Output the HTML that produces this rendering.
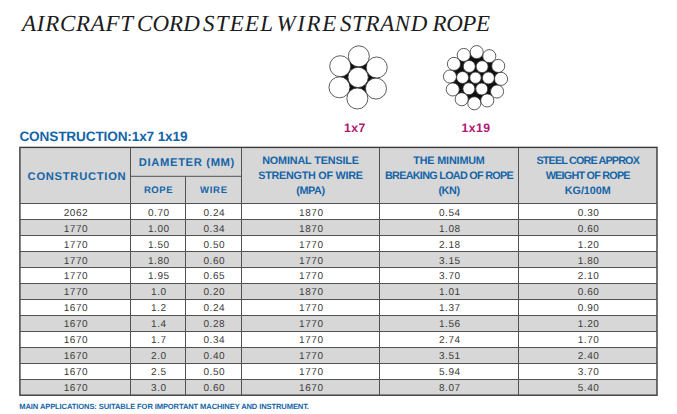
<!DOCTYPE html>
<html><head><meta charset="utf-8"><title>Aircraft cord steel wire strand rope</title>
<style>
html,body{margin:0;padding:0;background:#fff;}
body{text-rendering:geometricPrecision;width:677px;height:414px;position:relative;overflow:hidden;font-family:"Liberation Sans",sans-serif;}
.a{position:absolute;white-space:nowrap;}
.title{top:10px;font-family:"Liberation Serif",serif;font-style:italic;font-size:23px;line-height:28px;color:#1c1c1c;}
.sub{left:19.4px;top:128.6px;font-size:13.6px;line-height:16px;font-weight:bold;color:#1464a8;letter-spacing:-0.13px;}
.h{font-weight:bold;color:#1464a8;text-align:center;}
.h1{font-size:11.2px;line-height:14px;letter-spacing:0.72px;}
.h2{font-size:9.5px;line-height:14px;letter-spacing:0.55px;}
.h3{font-size:10.8px;line-height:15.35px;}
.h3 span{display:block;}
.c{font-size:10px;line-height:16px;color:#3a3a3a;text-align:center;letter-spacing:0.55px;}
.lab{font-size:12.2px;line-height:14px;font-weight:bold;color:#b11672;text-align:center;letter-spacing:0.5px;}
.foot{left:19.3px;top:401.7px;font-size:7.55px;line-height:10px;font-weight:bold;color:#1464a8;letter-spacing:-0.1px;}
.bg{background:#d7d7d7;}
svg{position:absolute;left:0;top:0;}
</style></head><body>

<div class="a title" style="left:22px;letter-spacing:0.71px">AIRCRAFT</div>
<div class="a title" style="left:137px;letter-spacing:0.07px">CORD</div>
<div class="a title" style="left:203px;letter-spacing:1.2px">STEEL</div>
<div class="a title" style="left:276.5px;letter-spacing:1.6px">WIRE</div>
<div class="a title" style="left:340px;letter-spacing:0.6px">STRAND</div>
<div class="a title" style="left:432.5px;letter-spacing:-0.4px">ROPE</div>
<div class="a sub">CONSTRUCTION:1x7 1x19</div>
<div class="a bg" style="left:19.9px;top:147.4px;width:637.1px;height:56.1px"></div>
<div class="a bg" style="left:19.9px;top:219.5px;width:637.1px;height:16px"></div>
<div class="a bg" style="left:19.9px;top:251.5px;width:637.1px;height:16px"></div>
<div class="a bg" style="left:19.9px;top:283.5px;width:637.1px;height:16px"></div>
<div class="a bg" style="left:19.9px;top:315.5px;width:637.1px;height:16px"></div>
<div class="a bg" style="left:19.9px;top:347.5px;width:637.1px;height:16px"></div>
<div class="a bg" style="left:19.9px;top:379.5px;width:637.1px;height:16px"></div>
<svg width="677" height="414" viewBox="0 0 677 414">
<polygon points="358.84,56.31 340.21,66.22 339.47,87.31 357.36,98.49 375.99,88.58 376.73,67.49" fill="#111"/>
<circle cx="358.84" cy="56.31" r="10.50" fill="#fff" stroke="#333" stroke-width="0.8"/>
<circle cx="340.21" cy="66.22" r="10.50" fill="#fff" stroke="#333" stroke-width="0.8"/>
<circle cx="339.47" cy="87.31" r="10.50" fill="#fff" stroke="#333" stroke-width="0.8"/>
<circle cx="357.36" cy="98.49" r="10.50" fill="#fff" stroke="#333" stroke-width="0.8"/>
<circle cx="375.99" cy="88.58" r="10.50" fill="#fff" stroke="#333" stroke-width="0.8"/>
<circle cx="376.73" cy="67.49" r="10.50" fill="#fff" stroke="#333" stroke-width="0.8"/>
<circle cx="358.10" cy="77.40" r="10.15" fill="#fff" stroke="#333" stroke-width="0.8"/>
<polygon points="476.68,52.13 463.74,54.96 453.95,63.89 449.93,76.52 452.76,89.46 461.69,99.25 474.32,103.27 487.26,100.44 497.05,91.51 501.07,78.88 498.24,65.94 489.31,56.15" fill="#111"/>
<circle cx="476.68" cy="52.13" r="6.55" fill="#fff" stroke="#333" stroke-width="0.8"/>
<circle cx="463.74" cy="54.96" r="6.55" fill="#fff" stroke="#333" stroke-width="0.8"/>
<circle cx="453.95" cy="63.89" r="6.55" fill="#fff" stroke="#333" stroke-width="0.8"/>
<circle cx="449.93" cy="76.52" r="6.55" fill="#fff" stroke="#333" stroke-width="0.8"/>
<circle cx="452.76" cy="89.46" r="6.55" fill="#fff" stroke="#333" stroke-width="0.8"/>
<circle cx="461.69" cy="99.25" r="6.55" fill="#fff" stroke="#333" stroke-width="0.8"/>
<circle cx="474.32" cy="103.27" r="6.55" fill="#fff" stroke="#333" stroke-width="0.8"/>
<circle cx="487.26" cy="100.44" r="6.55" fill="#fff" stroke="#333" stroke-width="0.8"/>
<circle cx="497.05" cy="91.51" r="6.55" fill="#fff" stroke="#333" stroke-width="0.8"/>
<circle cx="501.07" cy="78.88" r="6.55" fill="#fff" stroke="#333" stroke-width="0.8"/>
<circle cx="498.24" cy="65.94" r="6.55" fill="#fff" stroke="#333" stroke-width="0.8"/>
<circle cx="489.31" cy="56.15" r="6.55" fill="#fff" stroke="#333" stroke-width="0.8"/>
<circle cx="488.40" cy="77.93" r="6.00" fill="#fff" stroke="#333" stroke-width="0.8"/>
<circle cx="482.14" cy="66.64" r="6.00" fill="#fff" stroke="#333" stroke-width="0.8"/>
<circle cx="469.25" cy="66.42" r="6.00" fill="#fff" stroke="#333" stroke-width="0.8"/>
<circle cx="462.60" cy="77.47" r="6.00" fill="#fff" stroke="#333" stroke-width="0.8"/>
<circle cx="468.86" cy="88.76" r="6.00" fill="#fff" stroke="#333" stroke-width="0.8"/>
<circle cx="481.75" cy="88.98" r="6.00" fill="#fff" stroke="#333" stroke-width="0.8"/>
<circle cx="475.50" cy="77.70" r="5.70" fill="#fff" stroke="#333" stroke-width="0.8"/>
<g stroke="#525252" fill="none">
<rect x="19.9" y="147.4" width="637.1" height="247.8" stroke="#3a3a3a" stroke-width="1.4"/>
<line x1="130.5" y1="147.4" x2="130.5" y2="395.2" stroke-width="1"/>
<line x1="185.5" y1="176.3" x2="185.5" y2="395.2" stroke-width="1"/>
<line x1="241.5" y1="147.4" x2="241.5" y2="395.2" stroke-width="1"/>
<line x1="379.5" y1="147.4" x2="379.5" y2="395.2" stroke-width="1"/>
<line x1="518.5" y1="147.4" x2="518.5" y2="395.2" stroke-width="1"/>
<line x1="130.5" y1="176.3" x2="241.5" y2="176.3" stroke-width="1"/>
<line x1="19.9" y1="203.5" x2="657" y2="203.5" stroke-width="1"/>
<line x1="19.9" y1="219.5" x2="657" y2="219.5" stroke-width="1"/>
<line x1="19.9" y1="235.5" x2="657" y2="235.5" stroke-width="1"/>
<line x1="19.9" y1="251.5" x2="657" y2="251.5" stroke-width="1"/>
<line x1="19.9" y1="267.5" x2="657" y2="267.5" stroke-width="1"/>
<line x1="19.9" y1="283.5" x2="657" y2="283.5" stroke-width="1"/>
<line x1="19.9" y1="299.5" x2="657" y2="299.5" stroke-width="1"/>
<line x1="19.9" y1="315.5" x2="657" y2="315.5" stroke-width="1"/>
<line x1="19.9" y1="331.5" x2="657" y2="331.5" stroke-width="1"/>
<line x1="19.9" y1="347.5" x2="657" y2="347.5" stroke-width="1"/>
<line x1="19.9" y1="363.5" x2="657" y2="363.5" stroke-width="1"/>
<line x1="19.9" y1="379.5" x2="657" y2="379.5" stroke-width="1"/>
</g></svg>
<div class="a lab" style="left:324.85px;top:120.8px;width:60px">1x7</div>
<div class="a lab" style="left:446.1px;top:120.8px;width:60px">1x19</div>
<div class="a h h1" style="left:21.7px;top:169.8px;width:110.6px;">CONSTRUCTION</div>
<div class="a h h1" style="left:131.4px;top:156px;width:111px;letter-spacing:0.66px;">DIAMETER (MM)</div>
<div class="a h h2" style="left:131px;top:184.4px;width:55px;">ROPE</div>
<div class="a h h2" style="left:185.9px;top:184.4px;width:56px;letter-spacing:0.72px;">WIRE</div>
<div class="a h h3" style="left:241.5px;top:153.9px;width:138px;white-space:normal;"><span style="letter-spacing:-0.14px">NOMINAL TENSILE</span><span style="letter-spacing:-0.25px">STRENGTH OF WIRE</span><span style="position:relative;top:-0.9px;letter-spacing:-0.4px">(MPA)</span></div>
<div class="a h h3" style="left:379.5px;top:153.9px;width:139px;white-space:normal;"><span style="letter-spacing:-0.16px">THE MINIMUM</span><span style="letter-spacing:-0.7px">BREAKING LOAD OF ROPE</span><span style="position:relative;top:-0.9px;letter-spacing:-0.4px">(KN)</span></div>
<div class="a h h3" style="left:518.5px;top:153.9px;width:138.5px;white-space:normal;"><span style="letter-spacing:-0.85px">STEEL CORE APPROX</span><span style="letter-spacing:-0.76px">WEIGHT OF ROPE</span><span style="position:relative;top:-0.9px;letter-spacing:-0.04px">KG/100M</span></div>
<div class="a c" style="left:20.7px;top:205.7px;width:110.6px;">2062</div>
<div class="a c" style="left:131.3px;top:205.7px;width:55px;">0.70</div>
<div class="a c" style="left:186.3px;top:205.7px;width:56px;">0.24</div>
<div class="a c" style="left:242.3px;top:205.7px;width:138px;">1870</div>
<div class="a c" style="left:380.3px;top:205.7px;width:139px;">0.54</div>
<div class="a c" style="left:519.3px;top:205.7px;width:138.5px;">0.30</div>
<div class="a c" style="left:20.7px;top:221.64px;width:110.6px;">1770</div>
<div class="a c" style="left:131.3px;top:221.64px;width:55px;">1.00</div>
<div class="a c" style="left:186.3px;top:221.64px;width:56px;">0.34</div>
<div class="a c" style="left:242.3px;top:221.64px;width:138px;">1870</div>
<div class="a c" style="left:380.3px;top:221.64px;width:139px;">1.08</div>
<div class="a c" style="left:519.3px;top:221.64px;width:138.5px;">0.60</div>
<div class="a c" style="left:20.7px;top:237.58px;width:110.6px;">1770</div>
<div class="a c" style="left:131.3px;top:237.58px;width:55px;">1.50</div>
<div class="a c" style="left:186.3px;top:237.58px;width:56px;">0.50</div>
<div class="a c" style="left:242.3px;top:237.58px;width:138px;">1770</div>
<div class="a c" style="left:380.3px;top:237.58px;width:139px;">2.18</div>
<div class="a c" style="left:519.3px;top:237.58px;width:138.5px;">1.20</div>
<div class="a c" style="left:20.7px;top:253.52px;width:110.6px;">1770</div>
<div class="a c" style="left:131.3px;top:253.52px;width:55px;">1.80</div>
<div class="a c" style="left:186.3px;top:253.52px;width:56px;">0.60</div>
<div class="a c" style="left:242.3px;top:253.52px;width:138px;">1770</div>
<div class="a c" style="left:380.3px;top:253.52px;width:139px;">3.15</div>
<div class="a c" style="left:519.3px;top:253.52px;width:138.5px;">1.80</div>
<div class="a c" style="left:20.7px;top:269.46px;width:110.6px;">1770</div>
<div class="a c" style="left:131.3px;top:269.46px;width:55px;">1.95</div>
<div class="a c" style="left:186.3px;top:269.46px;width:56px;">0.65</div>
<div class="a c" style="left:242.3px;top:269.46px;width:138px;">1770</div>
<div class="a c" style="left:380.3px;top:269.46px;width:139px;">3.70</div>
<div class="a c" style="left:519.3px;top:269.46px;width:138.5px;">2.10</div>
<div class="a c" style="left:20.7px;top:285.4px;width:110.6px;">1770</div>
<div class="a c" style="left:131.3px;top:285.4px;width:55px;">1.0</div>
<div class="a c" style="left:186.3px;top:285.4px;width:56px;">0.20</div>
<div class="a c" style="left:242.3px;top:285.4px;width:138px;">1870</div>
<div class="a c" style="left:380.3px;top:285.4px;width:139px;">1.01</div>
<div class="a c" style="left:519.3px;top:285.4px;width:138.5px;">0.60</div>
<div class="a c" style="left:20.7px;top:301.34px;width:110.6px;">1670</div>
<div class="a c" style="left:131.3px;top:301.34px;width:55px;">1.2</div>
<div class="a c" style="left:186.3px;top:301.34px;width:56px;">0.24</div>
<div class="a c" style="left:242.3px;top:301.34px;width:138px;">1770</div>
<div class="a c" style="left:380.3px;top:301.34px;width:139px;">1.37</div>
<div class="a c" style="left:519.3px;top:301.34px;width:138.5px;">0.90</div>
<div class="a c" style="left:20.7px;top:317.28px;width:110.6px;">1670</div>
<div class="a c" style="left:131.3px;top:317.28px;width:55px;">1.4</div>
<div class="a c" style="left:186.3px;top:317.28px;width:56px;">0.28</div>
<div class="a c" style="left:242.3px;top:317.28px;width:138px;">1770</div>
<div class="a c" style="left:380.3px;top:317.28px;width:139px;">1.56</div>
<div class="a c" style="left:519.3px;top:317.28px;width:138.5px;">1.20</div>
<div class="a c" style="left:20.7px;top:333.22px;width:110.6px;">1670</div>
<div class="a c" style="left:131.3px;top:333.22px;width:55px;">1.7</div>
<div class="a c" style="left:186.3px;top:333.22px;width:56px;">0.34</div>
<div class="a c" style="left:242.3px;top:333.22px;width:138px;">1770</div>
<div class="a c" style="left:380.3px;top:333.22px;width:139px;">2.74</div>
<div class="a c" style="left:519.3px;top:333.22px;width:138.5px;">1.70</div>
<div class="a c" style="left:20.7px;top:349.16px;width:110.6px;">1670</div>
<div class="a c" style="left:131.3px;top:349.16px;width:55px;">2.0</div>
<div class="a c" style="left:186.3px;top:349.16px;width:56px;">0.40</div>
<div class="a c" style="left:242.3px;top:349.16px;width:138px;">1770</div>
<div class="a c" style="left:380.3px;top:349.16px;width:139px;">3.51</div>
<div class="a c" style="left:519.3px;top:349.16px;width:138.5px;">2.40</div>
<div class="a c" style="left:20.7px;top:365.1px;width:110.6px;">1670</div>
<div class="a c" style="left:131.3px;top:365.1px;width:55px;">2.5</div>
<div class="a c" style="left:186.3px;top:365.1px;width:56px;">0.50</div>
<div class="a c" style="left:242.3px;top:365.1px;width:138px;">1770</div>
<div class="a c" style="left:380.3px;top:365.1px;width:139px;">5.94</div>
<div class="a c" style="left:519.3px;top:365.1px;width:138.5px;">3.70</div>
<div class="a c" style="left:20.7px;top:381.04px;width:110.6px;">1670</div>
<div class="a c" style="left:131.3px;top:381.04px;width:55px;">3.0</div>
<div class="a c" style="left:186.3px;top:381.04px;width:56px;">0.60</div>
<div class="a c" style="left:242.3px;top:381.04px;width:138px;">1670</div>
<div class="a c" style="left:380.3px;top:381.04px;width:139px;">8.07</div>
<div class="a c" style="left:519.3px;top:381.04px;width:138.5px;">5.40</div>
<div class="a foot">MAIN APPLICATIONS: SUITABLE FOR IMPORTANT MACHINEY AND INSTRUMENT.</div>
</body></html>
